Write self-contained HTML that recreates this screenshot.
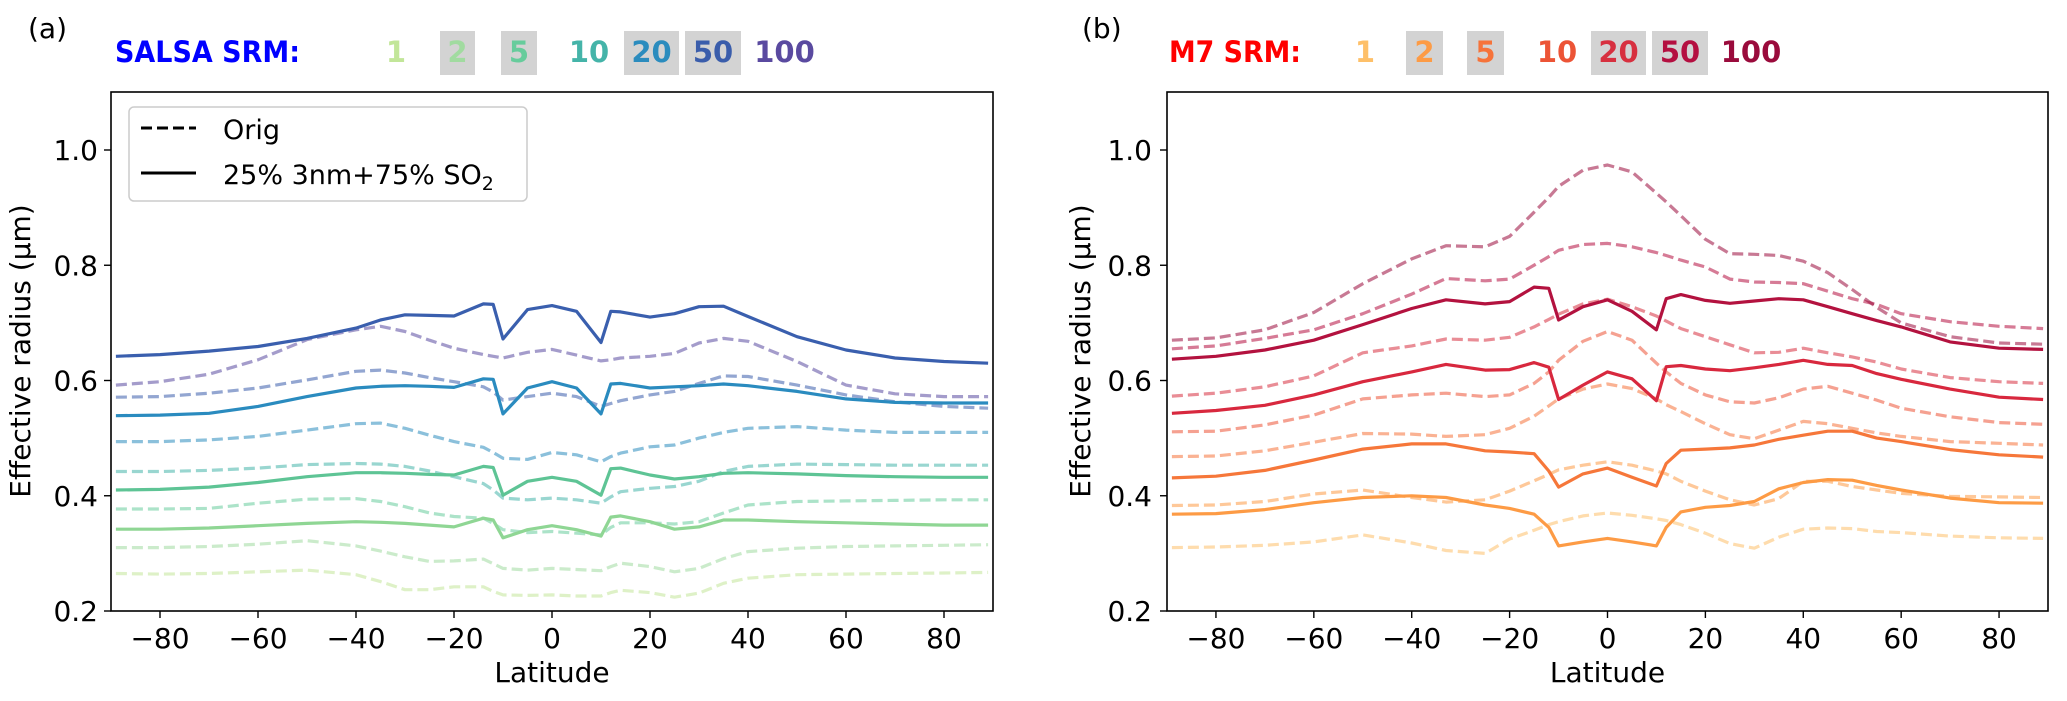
<!DOCTYPE html>
<html><head><meta charset="utf-8">
<style>
html,body{margin:0;padding:0;background:#fff;}
svg{display:block;font-family:"DejaVu Sans","Liberation Sans",sans-serif;}
</style></head>
<body>
<svg id="fig" width="2067" height="701" viewBox="0 0 2067 701" xmlns="http://www.w3.org/2000/svg">
  <text x="28" y="38" font-size="28">(a)</text>
  <text x="115" y="62" font-size="29" font-weight="bold" fill="#0000ff" textLength="185" lengthAdjust="spacingAndGlyphs">SALSA SRM:</text>
  <text x="1082" y="38" font-size="28">(b)</text>
  <text x="1169" y="62" font-size="29" font-weight="bold" fill="#ff0000" textLength="132" lengthAdjust="spacingAndGlyphs">M7 SRM:</text>
  <g id="headers"></g>
  <g id="panelA"></g>
  <g id="panelB"></g>
  <g>
    <rect x="129" y="107" width="398" height="94" rx="5" fill="#fff" fill-opacity="0.8" stroke="#cccccc" stroke-width="1.5"/>
    <line x1="141" y1="128" x2="196" y2="128" stroke="#000" stroke-width="3" stroke-dasharray="11,5"/>
    <text x="223" y="139" font-size="27">Orig</text>
    <line x1="141" y1="173" x2="196" y2="173" stroke="#000" stroke-width="3"/>
    <text x="223" y="184" font-size="27">25% 3nm+75% SO<tspan font-size="19" dy="6">2</tspan></text>
  </g>
</svg>
<script>
const latA = [-89,-80,-70,-60,-50,-40,-35,-30,-25,-20,-14,-12,-10,-5,0,5,10,12,14,20,25,30,35,40,50,60,70,80,89];
const salsa100Orig = [.592,.598,.611,.636,.671,.688,.694,.685,.67,.656,.645,.642,.639,.649,.654,.644,.634,.636,.639,.642,.647,.665,.673,.668,.633,.592,.577,.572,.572];
const salsa50Orig  = [.571,.572,.578,.587,.601,.616,.618,.613,.605,.598,.589,.58,.566,.572,.578,.572,.555,.56,.565,.575,.581,.595,.608,.607,.592,.575,.563,.555,.552];
const salsa20Orig  = [.494,.494,.497,.503,.514,.525,.526,.517,.505,.494,.484,.475,.465,.463,.475,.471,.459,.468,.474,.485,.488,.5,.51,.517,.52,.514,.51,.51,.51];
const salsa10Orig  = [.442,.442,.444,.448,.454,.456,.455,.451,.443,.433,.421,.41,.396,.393,.396,.393,.387,.398,.407,.413,.416,.425,.442,.451,.455,.454,.453,.453,.453];
const salsa5Orig   = [.377,.377,.378,.387,.394,.395,.39,.381,.37,.364,.361,.352,.341,.336,.338,.335,.332,.345,.353,.353,.351,.355,.37,.384,.39,.391,.392,.393,.393];
const salsa2Orig   = [.31,.31,.312,.316,.322,.313,.304,.294,.286,.287,.29,.282,.274,.271,.274,.272,.27,.277,.283,.277,.268,.274,.291,.303,.309,.312,.313,.314,.315];
const salsa1Orig   = [.265,.264,.265,.268,.271,.263,.251,.237,.237,.242,.242,.234,.228,.227,.228,.226,.226,.232,.236,.232,.224,.231,.248,.257,.263,.264,.265,.266,.267];
const salsa50Mix   = [.642,.645,.651,.659,.673,.691,.705,.714,.713,.712,.733,.732,.672,.723,.73,.72,.666,.72,.719,.71,.716,.728,.729,.711,.676,.653,.639,.633,.63];
const salsa20Mix   = [.539,.54,.543,.555,.572,.587,.59,.591,.59,.588,.603,.602,.542,.587,.598,.587,.542,.594,.595,.587,.589,.591,.594,.591,.581,.568,.562,.561,.561];
const salsa5Mix    = [.41,.411,.415,.423,.433,.44,.44,.439,.437,.436,.451,.449,.401,.425,.432,.425,.401,.447,.448,.436,.429,.433,.439,.44,.438,.435,.433,.432,.432];
const salsa2Mix    = [.342,.342,.344,.348,.352,.355,.354,.352,.349,.346,.361,.358,.327,.341,.348,.341,.33,.363,.365,.355,.342,.346,.358,.358,.355,.353,.351,.349,.349];

const latB = [-89,-80,-70,-60,-50,-40,-33,-25,-20,-15,-12,-10,-5,0,5,10,12,15,20,25,30,35,40,45,50,55,60,70,80,89];
const m7100Orig = [.670,.674,.688,.718,.768,.811,.834,.832,.850,.892,.918,.937,.965,.974,.962,.925,.910,.886,.845,.820,.819,.817,.807,.787,.758,.727,.700,.676,.665,.663];
const m750Orig  = [.655,.660,.673,.688,.716,.750,.777,.773,.776,.800,.815,.826,.836,.838,.832,.822,.817,.809,.797,.776,.771,.770,.768,.755,.742,.732,.716,.702,.694,.69];
const m720Orig  = [.573,.578,.589,.608,.648,.660,.672,.670,.675,.693,.706,.715,.733,.741,.728,.712,.703,.690,.676,.662,.648,.649,.656,.648,.641,.632,.620,.605,.598,.595];
const m710Orig  = [.511,.512,.523,.54,.568,.575,.578,.572,.575,.595,.615,.635,.668,.685,.67,.63,.615,.595,.575,.563,.561,.57,.585,.59,.578,.566,.552,.537,.527,.524];
const m75Orig   = [.468,.469,.478,.493,.508,.507,.503,.506,.517,.538,.556,.568,.585,.594,.586,.568,.558,.546,.525,.506,.499,.514,.529,.525,.517,.509,.503,.494,.491,.488];
const m72Orig   = [.383,.384,.39,.403,.41,.397,.389,.393,.408,.426,.437,.445,.453,.459,.453,.443,.438,.425,.408,.393,.384,.395,.425,.425,.416,.41,.404,.399,.398,.397];
const m71Orig   = [.31,.311,.314,.32,.332,.318,.305,.30,.325,.34,.35,.355,.365,.37,.366,.36,.357,.35,.335,.317,.309,.328,.342,.344,.343,.338,.336,.33,.327,.326];
const m750Mix   = [.637,.642,.653,.670,.697,.725,.740,.733,.737,.762,.760,.705,.728,.740,.720,.688,.742,.749,.739,.734,.738,.742,.740,.728,.716,.704,.693,.667,.656,.654];
const m720Mix   = [.543,.548,.557,.575,.598,.615,.628,.618,.619,.631,.623,.567,.592,.615,.603,.565,.624,.626,.620,.617,.622,.628,.635,.628,.626,.612,.602,.585,.571,.567];
const m75Mix    = [.431,.434,.444,.462,.481,.49,.49,.478,.476,.473,.443,.415,.438,.448,.432,.417,.456,.479,.481,.483,.488,.498,.505,.512,.512,.5,.494,.48,.471,.467];
const m72Mix    = [.368,.369,.376,.388,.397,.4,.397,.384,.378,.368,.345,.313,.32,.326,.32,.313,.345,.372,.38,.383,.39,.412,.423,.428,.427,.418,.41,.396,.388,.387];

const yTicks = [0.2,0.4,0.6,0.8,1.0];
const yTickLabels = ["0.2","0.4","0.6","0.8","1.0"];
const xTicks = [-80,-60,-40,-20,0,20,40,60,80];
const xTickLabels = ["\u221280","\u221260","\u221240","\u221220","0","20","40","60","80"];
const srmLabels = ["1","2","5","10","20","50","100"];
const srmBoxed = [false,true,true,false,true,true,false];

const NS = "http://www.w3.org/2000/svg";
function mk(tag, attrs, parent){const e=document.createElementNS(NS,tag);for(const k in attrs)e.setAttribute(k,attrs[k]);parent.appendChild(e);return e;}

const axTop=92, axBottom=611, yMin=0.2;
const yPxPerUnit=(611-150)/0.8;
function yScale(v){return 611-(v-yMin)*yPxPerUnit;}

function makePanel(gid, left, right, name, latArr, series, labelX, tickRight){
  const g=document.getElementById(gid);
  const xScale = lat => left + (lat+90)/180*(right-left);
  const cp=mk('clipPath',{id:'clip'+gid},g);
  mk('rect',{x:left,y:axTop,width:right-left,height:axBottom-axTop},cp);
  const lines=mk('g',{'clip-path':'url(#clip'+gid+')'},g);
  
  
  series.forEach(s=>{
    let d='';
    s.vals.forEach((v,i)=>{d+=(i?'L':'M')+xScale(latArr[i]).toFixed(1)+','+yScale(v).toFixed(1);});
    const p=mk('path',{d:d,fill:'none',stroke:s.color,'stroke-width':3.2,'stroke-linejoin':'round','stroke-opacity':s.dash?0.55:1},lines);
    if(s.dash)p.setAttribute('stroke-dasharray','11,5');
    
    
  });
  const fr=mk('rect',{x:left,y:axTop,width:right-left,height:axBottom-axTop,fill:'none',stroke:'#000','stroke-width':1.6},g);
  
  
  yTicks.forEach((t,i)=>{
    const y=yScale(t);
    mk('line',{x1:left-7,x2:left,y1:y,y2:y,stroke:'#000','stroke-width':1.4},g);
    const tx=mk('text',{x:tickRight,y:y+10,'font-size':28,'text-anchor':'end'},g);
    tx.textContent=yTickLabels[i];
    
    
  });
  xTicks.forEach((t,i)=>{
    const x=xScale(t);
    mk('line',{x1:x,x2:x,y1:axBottom,y2:axBottom+7,stroke:'#000','stroke-width':1.4},g);
    const tx=mk('text',{x:x,y:648,'font-size':28,'text-anchor':'middle'},g);
    tx.textContent=xTickLabels[i];
    
    
  });
  const xl=mk('text',{x:(left+right)/2,y:682,'font-size':28,'text-anchor':'middle'},g);
  xl.textContent='Latitude';
  
  
  const yl=mk('text',{x:0,y:0,'font-size':28,'text-anchor':'middle',transform:'translate('+(labelX+10)+',351) rotate(-90)'},g);
  yl.textContent='Effective radius (\u03bcm)';
  
  
}

const salsaColors=["#c2e699","#a1dba0","#67cc9c","#45b4a9","#2b8cbe","#3a5dab","#5a4aa0"];
const m7Colors=["#fec069","#fd9b45","#f6733a","#ec5436","#d7303f","#b40f40","#9a0b3c"];

makePanel('panelA',111,993,'panel-a',latA,[
  {name:'salsa-1-orig',vals:salsa1Orig,color:salsaColors[0],dash:true},
  {name:'salsa-2-orig',vals:salsa2Orig,color:salsaColors[1],dash:true},
  {name:'salsa-5-orig',vals:salsa5Orig,color:salsaColors[2],dash:true},
  {name:'salsa-10-orig',vals:salsa10Orig,color:salsaColors[3],dash:true},
  {name:'salsa-20-orig',vals:salsa20Orig,color:salsaColors[4],dash:true},
  {name:'salsa-50-orig',vals:salsa50Orig,color:salsaColors[5],dash:true},
  {name:'salsa-100-orig',vals:salsa100Orig,color:salsaColors[6],dash:true},
  {name:'salsa-2-mix',vals:salsa2Mix,color:"#8fd694",dash:false},
  {name:'salsa-5-mix',vals:salsa5Mix,color:"#5ec495",dash:false},
  {name:'salsa-20-mix',vals:salsa20Mix,color:"#2a8bbf",dash:false},
  {name:'salsa-50-mix',vals:salsa50Mix,color:"#3a5fae",dash:false}
],20,98);

makePanel('panelB',1167,2048,'panel-b',latB,[
  {name:'m7-1-orig',vals:m71Orig,color:m7Colors[0],dash:true},
  {name:'m7-2-orig',vals:m72Orig,color:m7Colors[1],dash:true},
  {name:'m7-5-orig',vals:m75Orig,color:m7Colors[2],dash:true},
  {name:'m7-10-orig',vals:m710Orig,color:m7Colors[3],dash:true},
  {name:'m7-20-orig',vals:m720Orig,color:m7Colors[4],dash:true},
  {name:'m7-50-orig',vals:m750Orig,color:m7Colors[5],dash:true},
  {name:'m7-100-orig',vals:m7100Orig,color:m7Colors[6],dash:true},
  {name:'m7-2-mix',vals:m72Mix,color:"#fd9b45",dash:false},
  {name:'m7-5-mix',vals:m75Mix,color:"#f6773a",dash:false},
  {name:'m7-20-mix',vals:m720Mix,color:"#d8283e",dash:false},
  {name:'m7-50-mix',vals:m750Mix,color:"#b3123f",dash:false}
],1080,1152);

const hdr=document.getElementById('headers');
const hdrA=[[388,404],[440,475],[501,537],[571,607],[624,679],[685,741],[757,812]];
const hdrB=[[1357,1373],[1406,1443],[1467,1504],[1540,1574],[1591,1646],[1652,1708],[1724,1778]];
function drawHeader(spans, colors, prefix){
  spans.forEach((s,i)=>{
    if(srmBoxed[i]){
      const r=mk('rect',{x:s[0],y:31,width:s[1]-s[0],height:44,fill:'#d3d3d3'},hdr);
      
      
    }
    const t=mk('text',{x:(s[0]+s[1])/2,y:62,'font-size':29,'font-weight':'bold','text-anchor':'middle',fill:colors[i]},hdr);
    t.textContent=srmLabels[i];
    
    
  });
}
drawHeader(hdrA,salsaColors,'salsa');
drawHeader(hdrB,m7Colors,'m7');
</script>
</body></html>
